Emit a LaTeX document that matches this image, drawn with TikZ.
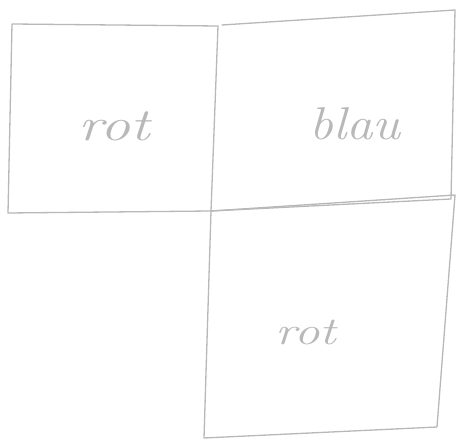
\documentclass[tikz,border=0pt]{standalone}
\begin{document}
\begin{tikzpicture}[x=1pt,y=-1pt,
  pen/.style={draw=black!28, line width=1.3pt, line join=round, line cap=round},
  word/.style={text=black!28, font=\fontsize{46}{46}\selectfont\itshape, inner sep=0pt}]
\useasboundingbox[fill=white] (0,0) rectangle (461,443);
% corner coordinates
\coordinate (a1) at (12,24);
\coordinate (a2) at (218,26);
\coordinate (a3) at (211,211);
\coordinate (a4) at (8,213);
\coordinate (b1) at (222,25);
\coordinate (b2) at (455,10);
\coordinate (b3) at (451,199);
\coordinate (c2) at (455,195);
\coordinate (c3) at (437,427);
\coordinate (c4) at (204,438);
% top-left box
\draw[pen] (a1) -- (a2) -- (a3) -- (a4) -- cycle;
% top-right box
\draw[pen] (b1) -- (b2) -- (b3) -- (a3);
% bottom-right box
\draw[pen] (a3) -- (c2) -- (c3) -- (c4) -- cycle;
% labels
\node[word, xscale=1.3] (t1) at (114,126) {rot};
\node[word, xscale=1.15] (t2) at (355,124) {blau};
\node[word, xscale=1.3, scale=0.85] (t3) at (306,332) {rot};
\end{tikzpicture}
\end{document}
